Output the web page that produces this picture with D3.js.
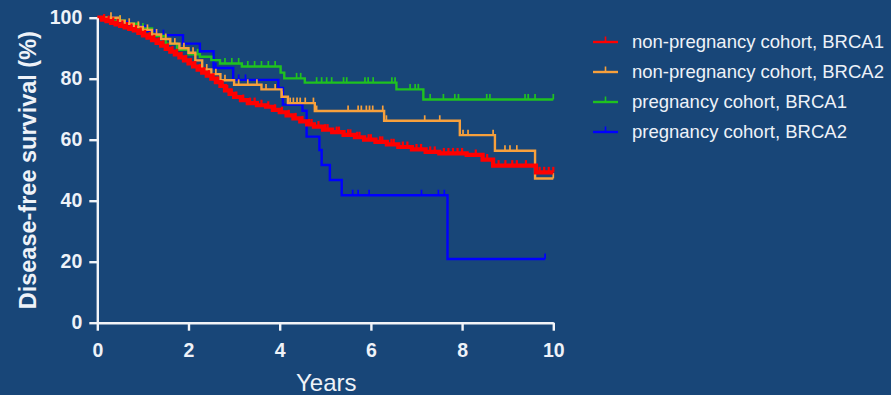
<!DOCTYPE html>
<html>
<head>
<meta charset="utf-8">
<script src="https://cdn.jsdelivr.net/npm/d3@7"></script>
<style>
  html, body { margin: 0; padding: 0; background: #184678; }
  svg { display: block; }
</style>
</head>
<body>
<svg id="chart" width="891" height="395"></svg>
<script>
// ---------------- DATA ----------------
const seriesNames = ["non-pregnancy cohort, BRCA1", "non-pregnancy cohort, BRCA2", "pregnancy cohort, BRCA1", "pregnancy cohort, BRCA2"];
const xTicks = [0, 2, 4, 6, 8, 10];
const yTicks = [0, 20, 40, 60, 80, 100];

// non-pregnancy cohort, BRCA1 (red)
const redT = [0,0.1,0.2,0.3,0.4,0.5,0.6,0.7,0.8,0.9,1.0,1.1,1.2,1.3,1.4,1.5,1.6,1.7,1.8,1.9,2.0,2.1,2.2,2.3,2.4,2.5,2.6,2.7,2.8,2.9,3.0,3.15,3.3,3.5,3.7,3.85,4.0,4.15,4.3,4.45,4.6,4.75,4.95,5.15,5.4,5.65,5.85,6.1,6.35,6.6,6.9,7.2,7.5,8.1,8.45,8.68,9.62,10.0];
const redS = [100,99.4,98.9,98.3,97.8,97.3,96.8,96.3,95.8,95.0,94.2,93.5,92.6,91.7,90.8,89.8,88.9,88.0,87.0,86.0,85.0,84.0,83.0,82.0,81.0,80.0,78.9,77.6,76.2,75.0,74.0,73.0,72.0,71.3,70.8,69.8,69.0,68.0,67.0,66.0,65.0,64.3,63.3,62.5,61.6,60.8,60.0,59.3,58.5,57.6,56.8,56.0,55.5,55.0,53.5,51.5,49.3,49.3];
const redCensor = [0.15,0.25,0.35,0.45,0.55,0.65,0.75,0.85,0.95,1.05,1.15,1.25,1.35,1.45,1.55,1.65,1.75,1.85,1.95,2.05,2.15,2.25,2.35,2.45,2.55,2.65,2.75,2.85,2.95,3.05,3.2,3.35,3.45,3.6,3.75,3.9,4.05,4.2,4.35,4.5,4.65,4.7,4.85,5.0,5.05,5.25,5.3,5.5,5.55,5.7,5.75,5.95,6.0,6.2,6.25,6.45,6.5,6.7,6.8,7.0,7.1,7.3,7.4,7.6,7.7,7.8,7.9,8.0,8.3,8.55,8.8,8.95,9.1,9.2,9.4,9.7,9.8,9.9,10.0];

// non-pregnancy cohort, BRCA2 (orange)
const orangeT = [0,0.45,0.6,0.8,1.0,1.2,1.4,1.6,1.8,2.0,2.15,2.3,2.5,2.7,3.0,3.6,4.04,4.18,4.77,6.29,7.95,8.72,9.6,10.0];
const orangeS = [100,99,98,97,96,94.5,93,91.5,90,88.5,86,83,81.5,79.5,78,76.5,74.1,72,69.4,66.2,61.5,56.4,47.3,47.3];
const orangeCensor = [0.3,0.5,0.7,0.9,1.1,1.3,1.5,1.7,1.9,2.1,2.4,2.6,2.8,3.1,3.3,3.5,3.7,3.9,4.05,4.23,4.3,4.38,4.45,4.56,4.74,4.81,5.5,5.72,5.79,5.9,5.97,6.04,6.26,6.34,7.18,7.51,8.02,8.13,8.68,8.94,9.05,9.2,10.0];

// pregnancy cohort, BRCA1 (green)
const greenT = [0,0.3,0.6,0.9,1.2,1.5,1.75,2.0,2.25,2.5,2.69,3.17,4.02,4.1,4.55,6.56,7.15,10.0];
const greenS = [100,99,98,96.5,94,91.5,89.5,88,87.2,86.1,85,84,82,80.1,78.7,76.5,73.2,73.2];
const greenCensor = [0.5,1.0,1.6,2.2,2.8,2.95,3.1,3.3,3.45,3.6,3.75,3.9,4.37,4.46,4.81,4.92,5.03,5.14,5.4,5.47,5.87,5.94,6.05,6.46,6.53,6.86,6.97,7.04,7.3,7.59,7.84,7.92,8.54,8.61,9.38,9.45,9.6,10.0];

// pregnancy cohort, BRCA2 (blue)
const blueT = [0,0.35,0.7,1.05,1.3,1.88,2.25,2.55,2.98,3.97,4.07,4.5,4.59,4.87,4.92,5.1,5.36,7.68,9.82];
const blueS = [100,98.6,97.1,95.7,94.3,91.5,89,83.5,79.6,77,71.5,69.5,61,56.6,51.7,46.8,41.8,20.9,20.9];
const blueCensor = [1.45,2.6,3.1,3.25,5.6,5.72,5.96,7.11,7.48,7.61,9.82];

const colors = ["#ff0000", "#f7a03c", "#1fc21f", "#0000ff"];

// ---------------- CHART ----------------
const svg = d3.select("#chart");
const W = 891, H = 395;
svg.append("rect").attr("width", W).attr("height", H).attr("fill", "#184678");

const x = d3.scaleLinear().domain([0, 10]).range([97.3, 553.3]);
const y = d3.scaleLinear().domain([0, 100]).range([322.7, 17.7]);

const axisColor = "#f2f4f8";
const textColor = "#eef2f8";

const series = [
  { name: seriesNames[0], t: redT, s: redS, c: redCensor, color: colors[0], w: 4.2 },
  { name: seriesNames[1], t: orangeT, s: orangeS, c: orangeCensor, color: colors[1], w: 2.4 },
  { name: seriesNames[2], t: greenT, s: greenS, c: greenCensor, color: colors[2], w: 2.4 },
  { name: seriesNames[3], t: blueT, s: blueS, c: blueCensor, color: colors[3], w: 2.4 }
];

function survAt(sr, time) {
  let v = sr.s[0];
  for (let i = 0; i < sr.t.length; i++) { if (sr.t[i] <= time + 1e-9) v = sr.s[i]; }
  return v;
}

const line = d3.line().x(d => x(d[0])).y(d => y(d[1])).curve(d3.curveStepAfter);

// draw order: blue, green, orange, red (red on top)
const drawOrder = [3, 2, 1, 0];
drawOrder.forEach(i => {
  const sr = series[i];
  const g = svg.append("g");
  const pts = sr.t.map((t, k) => [t, sr.s[k]]);
  g.append("path").attr("d", line(pts)).attr("fill", "none")
    .attr("stroke", sr.color).attr("stroke-width", sr.w).attr("stroke-linejoin", "miter");
  g.selectAll("line.cens").data(sr.c).join("line")
    .attr("x1", d => x(d)).attr("x2", d => x(d))
    .attr("y1", d => y(survAt(sr, d)))
    .attr("y2", d => y(survAt(sr, d)) - 5.5)
    .attr("stroke", sr.color).attr("stroke-width", i === 0 ? 2.2 : 1.7);
});

// axes
const yAxis = d3.axisLeft(y).tickValues(yTicks).tickSize(8).tickSizeOuter(0).tickPadding(7);
const yg = svg.append("g").attr("transform", `translate(${x(0)},0)`).call(yAxis);
const xAxis = d3.axisBottom(x).tickValues(xTicks).tickSize(8).tickSizeOuter(0).tickPadding(12);
const xg = svg.append("g").attr("transform", `translate(0,${y(0)})`).call(xAxis);

[yg, xg].forEach(g => {
  g.select(".domain").attr("stroke", axisColor).attr("stroke-width", 2.4);
  g.selectAll(".tick line").attr("stroke", axisColor).attr("stroke-width", 2.4);
  g.selectAll(".tick text").attr("fill", textColor)
    .style("font-family", "'Liberation Sans', Arial, sans-serif")
    .style("font-weight", "bold").style("font-size", "19.5px");
});

// axis titles
svg.append("text")
  .attr("transform", `translate(36,${(y(0) + y(100)) / 2}) rotate(-90)`)
  .attr("text-anchor", "middle")
  .attr("fill", textColor)
  .style("font-family", "'Liberation Sans', Arial, sans-serif")
  .style("font-weight", "bold").style("font-size", "23.5px")
  .text("Disease-free survival (%)");

svg.append("text")
  .attr("x", (x(0) + x(10)) / 2 + 1).attr("y", 391)
  .attr("text-anchor", "middle")
  .attr("fill", textColor)
  .style("font-family", "'Liberation Sans', Arial, sans-serif")
  .style("font-size", "24px")
  .text("Years");

// legend
const legendY = [42, 72, 102, 132];
series.forEach((sr, i) => {
  const g = svg.append("g").attr("transform", `translate(0,${legendY[i]})`);
  g.append("line").attr("x1", 593).attr("x2", 618).attr("y1", 0).attr("y2", 0)
    .attr("stroke", sr.color).attr("stroke-width", 2.4);
  g.append("line").attr("x1", 605.5).attr("x2", 605.5).attr("y1", 0).attr("y2", -5.5)
    .attr("stroke", sr.color).attr("stroke-width", 1.6);
  g.append("text").attr("x", 632).attr("y", 0).attr("dy", "0.35em")
    .attr("fill", textColor)
    .style("font-family", "'Liberation Sans', Arial, sans-serif")
    .style("font-size", "18.5px")
    .text(sr.name);
});
</script>
</body>
</html>
